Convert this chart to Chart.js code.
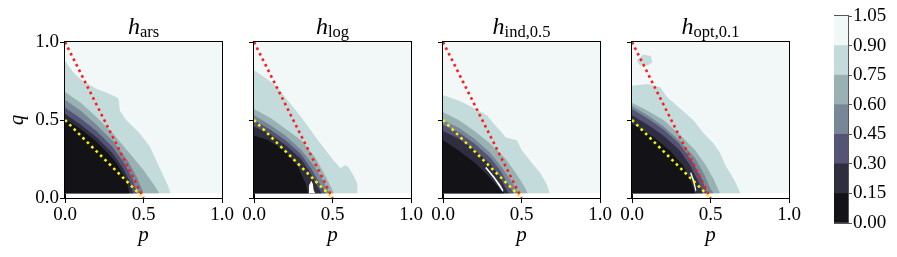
<!DOCTYPE html>
<html>
<head>
<meta charset="utf-8">
<script src="https://cdn.jsdelivr.net/npm/chart.js@4.4.1/dist/chart.umd.min.js"></script>
<style>
  body { margin:0; background:#fff; width:897px; height:257px; position:relative; overflow:hidden; font-family:"Liberation Serif", serif; }
  canvas { position:absolute; top:0; }
  .titulo { position:absolute; top:14px; width:157px; text-align:center; font-size:24px; line-height:24px; white-space:nowrap; color:#000; }
  .titulo sub { font-size:16.5px; font-style:normal; vertical-align:-3px; line-height:0; }
</style>
</head>
<body>
<canvas id="g0" width="242" height="257" style="left:0px"></canvas>
<canvas id="g1" width="207" height="257" style="left:224px"></canvas>
<canvas id="g2" width="207" height="257" style="left:413px"></canvas>
<canvas id="g3" width="207" height="257" style="left:602px"></canvas>
<canvas id="barra" width="63" height="257" style="left:834px"></canvas>
<div class="titulo" style="left:65px"><i>h</i><sub>ars</sub></div>
<div class="titulo" style="left:254px"><i>h</i><sub>log</sub></div>
<div class="titulo" style="left:443px"><i>h</i><sub>ind,0.5</sub></div>
<div class="titulo" style="left:632px"><i>h</i><sub>opt,0.1</sub></div>
<script>
// niveis do contorno e cores (mapa "bone")
const niveis = [0, 0.15, 0.30, 0.45, 0.60, 0.75, 0.90, 1.05];
const cores = ["#121217", "#2e2e40", "#555474", "#778797", "#98b2b3", "#c4dbdb", "#f2f8f8"];
const ticksEixo = [0, 0.5, 1];

// linhas de referencia (p, q)
const linhaVermelha = [[0, 1], [0.5, 0]];
const linhaAmarela = [[0, 0.5], [0.5, 0]];

// fronteiras de cada nivel (0.15 ... 0.90), pontos (p, q)
const bordasArs = [
  [[0,0.51],[0.1,0.44],[0.2,0.36],[0.27,0.29],[0.33,0.22],[0.37,0.15],[0.40,0.08],[0.41,0.03]],
  [[0,0.54],[0.1,0.47],[0.2,0.39],[0.3,0.29],[0.37,0.19],[0.41,0.11],[0.435,0.03]],
  [[0,0.58],[0.1,0.51],[0.2,0.43],[0.3,0.33],[0.38,0.22],[0.43,0.12],[0.46,0.03]],
  [[0,0.63],[0.1,0.56],[0.2,0.47],[0.3,0.37],[0.4,0.24],[0.46,0.13],[0.50,0.03]],
  [[0,0.68],[0.1,0.61],[0.2,0.52],[0.3,0.42],[0.4,0.30],[0.5,0.18],[0.57,0.08],[0.60,0.03]],
  [[0,0.88],[0.05,0.81],[0.1,0.76],[0.2,0.70],[0.3,0.66],[0.34,0.64],[0.35,0.56],[0.39,0.50],[0.48,0.41],[0.54,0.33],[0.6,0.2],[0.66,0.07],[0.67,0.03]]
];
const bordasLog = [
  [[0,0.40],[0.09,0.37],[0.2,0.30],[0.28,0.20],[0.33,0.09],[0.345,0.03]],
  [[0,0.46],[0.1,0.41],[0.2,0.34],[0.3,0.25],[0.36,0.16],[0.4,0.08],[0.43,0.03]],
  [[0,0.50],[0.1,0.44],[0.2,0.37],[0.3,0.28],[0.37,0.18],[0.42,0.09],[0.46,0.03]],
  [[0,0.53],[0.1,0.47],[0.2,0.40],[0.3,0.31],[0.38,0.21],[0.44,0.11],[0.48,0.03]],
  [[0,0.57],[0.11,0.51],[0.22,0.43],[0.3,0.37],[0.39,0.26],[0.45,0.15],[0.49,0.07],[0.51,0.03]],
  [[0,0.82],[0.1,0.75],[0.15,0.71],[0.2,0.645],[0.3,0.52],[0.4,0.38],[0.5,0.25],[0.55,0.19],[0.58,0.21],[0.6,0.2],[0.63,0.15],[0.66,0.09],[0.66,0.03]]
];
const bordasInd = [
  [[0,0.37],[0.106,0.30],[0.21,0.22],[0.30,0.13],[0.36,0.06],[0.39,0.03]],
  [[0,0.43],[0.1,0.38],[0.2,0.31],[0.3,0.22],[0.36,0.14],[0.4,0.06],[0.42,0.03]],
  [[0,0.47],[0.1,0.42],[0.2,0.35],[0.3,0.26],[0.37,0.17],[0.42,0.08],[0.45,0.03]],
  [[0,0.50],[0.1,0.45],[0.2,0.38],[0.3,0.29],[0.38,0.19],[0.44,0.10],[0.48,0.03]],
  [[0,0.55],[0.1,0.50],[0.2,0.43],[0.3,0.35],[0.4,0.25],[0.47,0.15],[0.52,0.07],[0.54,0.03]],
  [[0,0.66],[0.11,0.62],[0.19,0.58],[0.28,0.53],[0.32,0.48],[0.40,0.39],[0.43,0.38],[0.47,0.37],[0.5,0.31],[0.57,0.22],[0.62,0.16],[0.66,0.09],[0.68,0.03]]
];
const bordasOpt = [
  [[0,0.475],[0.14,0.39],[0.245,0.30],[0.33,0.20],[0.38,0.095],[0.40,0.03]],
  [[0,0.53],[0.1,0.47],[0.2,0.40],[0.3,0.31],[0.37,0.21],[0.42,0.11],[0.45,0.03]],
  [[0,0.57],[0.1,0.51],[0.2,0.44],[0.3,0.35],[0.38,0.24],[0.44,0.13],[0.48,0.03]],
  [[0,0.59],[0.1,0.53],[0.2,0.46],[0.3,0.37],[0.4,0.26],[0.46,0.15],[0.50,0.06],[0.52,0.03]],
  [[0,0.61],[0.1,0.56],[0.2,0.50],[0.3,0.41],[0.4,0.31],[0.47,0.21],[0.52,0.12],[0.56,0.03]],
  [[0,0.72],[0.1,0.73],[0.18,0.71],[0.22,0.65],[0.31,0.57],[0.39,0.50],[0.46,0.41],[0.52,0.35],[0.56,0.29],[0.6,0.2],[0.65,0.12],[0.69,0.03]]
];

// manchas soltas: [indice da cor (-1 = branco), pontos]
const manchasLog = [[-1, [[0.345,0.03],[0.35,0.08],[0.365,0.11],[0.375,0.09],[0.38,0.05],[0.39,0.03]]]];
const manchasInd = [[-1, [[0.27,0.19],[0.32,0.13],[0.36,0.07],[0.38,0.04],[0.385,0.05],[0.365,0.085],[0.325,0.14],[0.275,0.20]]]];
const manchasOpt = [
  [-1, [[0.37,0.16],[0.39,0.1],[0.405,0.04],[0.41,0.05],[0.397,0.11],[0.377,0.165]]],
  [5, [[0.03,0.88],[0.07,0.92],[0.12,0.91],[0.13,0.87],[0.10,0.85],[0.05,0.85]]]
];

const fonte = "Liberation Serif";
const qMin = 0.03;
const esquerdas = [65, 30, 30, 30];

const moldura = {
  id: "moldura",
  afterDraw(chart) {
    const { ctx, chartArea: a } = chart;
    ctx.save();
    ctx.strokeStyle = chart.options.plugins.moldura.cor;
    ctx.lineWidth = 1;
    ctx.strokeRect(Math.round(a.left) - 0.5, Math.round(a.top) - 0.5,
      Math.round(a.right - a.left) + 1, Math.round(a.bottom - a.top) + 1);
    ctx.restore();
  }
};

function pts(lista) {
  return lista.map(d => ({ x: d[0], y: d[1] }));
}

function linha(lista, cor, ordem) {
  return {
    data: pts(lista), borderColor: cor, borderWidth: 2.6, borderDash: [2.6, 3.6],
    pointRadius: 0, fill: false, order: ordem
  };
}

function criarPainel(id, idx, bordas, manchas) {
  const datasets = [];
  datasets.push(linha(linhaVermelha, "#ff1a1a", 0));
  datasets.push(linha(linhaAmarela, "#f4f400", 1));
  manchas.forEach(m => {
    datasets.push({
      data: pts(m[1]), backgroundColor: m[0] < 0 ? "#ffffff" : cores[m[0]],
      borderWidth: 0, pointRadius: 0, fill: "shape", order: 2
    });
  });
  bordas.forEach((b, i) => {
    datasets.push({
      data: pts(b), backgroundColor: cores[i], borderWidth: 0, pointRadius: 0,
      fill: { value: qMin }, order: 3 + i
    });
  });
  datasets.push({
    data: pts([[0, 1], [1, 1]]), backgroundColor: cores[6], borderWidth: 0, pointRadius: 0,
    fill: { value: qMin }, order: 20
  });

  new Chart(document.getElementById(id), {
    type: "line",
    data: { datasets: datasets },
    options: {
      responsive: false,
      animation: false,
      layout: { padding: { top: 42, right: 20, bottom: 0, left: 0 } },
      plugins: { legend: { display: false }, tooltip: { enabled: false }, moldura: { cor: "#000" } },
      elements: { line: { tension: 0 } },
      scales: {
        x: {
          type: "linear", min: 0, max: 1,
          afterBuildTicks: s => { s.ticks = ticksEixo.map(v => ({ value: v })); },
          afterFit: s => { s.height = 59; },
          ticks: { callback: v => v.toFixed(1), font: { family: fonte, size: 19 }, color: "#000", padding: 1, maxRotation: 0 },
          grid: { drawOnChartArea: false, tickLength: 5, color: "#000" },
          border: { color: "#000" },
          title: { display: true, text: "p", color: "#000", font: { family: fonte, size: 21, style: "italic" }, padding: { top: 0, bottom: 9 } }
        },
        y: {
          type: "linear", min: 0, max: 1,
          afterBuildTicks: s => { s.ticks = ticksEixo.map(v => ({ value: v })); },
          afterFit: s => { s.width = esquerdas[idx]; },
          ticks: { display: idx === 0, callback: v => v.toFixed(1), font: { family: fonte, size: 19 }, color: "#000", padding: 1 },
          grid: { drawOnChartArea: false, tickLength: 5, color: "#000" },
          border: { color: "#000" },
          title: { display: idx === 0, text: "q", color: "#000", font: { family: fonte, size: 21, style: "italic" }, padding: { top: 5, bottom: 0 } }
        }
      }
    },
    plugins: [moldura]
  });
}

function criarBarra() {
  const datasets = cores.map((c, i) => ({
    data: [niveis[i + 1] - niveis[i]], backgroundColor: c, borderWidth: 0,
    barPercentage: 1, categoryPercentage: 1
  }));
  new Chart(document.getElementById("barra"), {
    type: "bar",
    data: { labels: [""], datasets: datasets },
    options: {
      responsive: false,
      animation: false,
      layout: { padding: { top: 16, right: 0, bottom: 34, left: 0 } },
      plugins: { legend: { display: false }, tooltip: { enabled: false }, moldura: { cor: "#555" } },
      scales: {
        x: { display: false, stacked: true },
        y: {
          stacked: true, position: "right", min: 0, max: 1.05,
          afterBuildTicks: s => { s.ticks = niveis.map(v => ({ value: v })); },
          afterFit: s => { s.width = 49; },
          ticks: { callback: v => v.toFixed(2), font: { family: fonte, size: 19 }, color: "#000", padding: 1 },
          grid: { drawOnChartArea: false, tickLength: 4, color: "#555" },
          border: { color: "#555" }
        }
      }
    },
    plugins: [moldura]
  });
}

criarPainel("g0", 0, bordasArs, []);
criarPainel("g1", 1, bordasLog, manchasLog);
criarPainel("g2", 2, bordasInd, manchasInd);
criarPainel("g3", 3, bordasOpt, manchasOpt);
criarBarra();
</script>
</body>
</html>
